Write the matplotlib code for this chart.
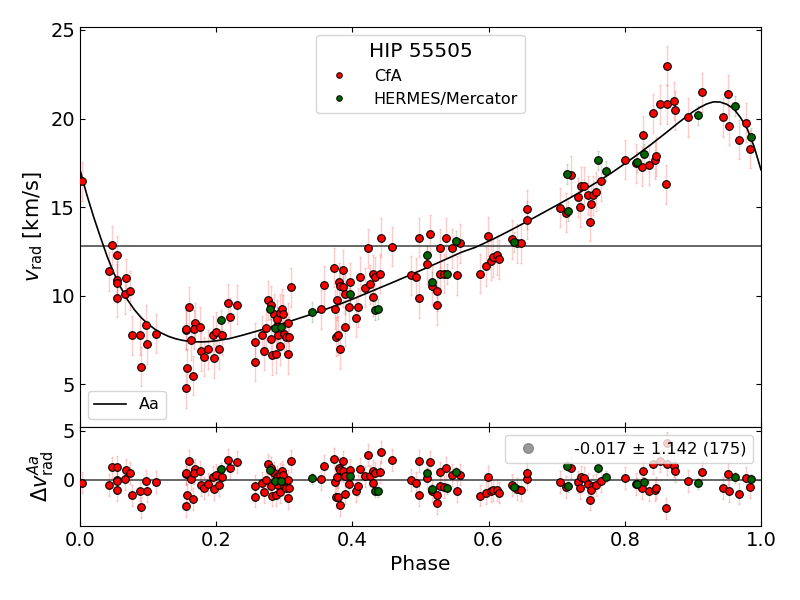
import numpy as np
import matplotlib
matplotlib.use("Agg")
import matplotlib.pyplot as plt
from matplotlib.lines import Line2D

# ---------------- data ----------------
cfa_phase = [0.0025, 0.0465, 0.054, 0.043, 0.055, 0.055, 0.0675, 0.066, 0.073, 0.054,
             0.077, 0.0876, 0.097, 0.099, 0.089, 0.111,
             0.156, 0.155, 0.1605, 0.163, 0.1576, 0.156, 0.166, 0.169, 0.168, 0.176,
             0.177, 0.182, 0.188, 0.195, 0.197, 0.200, 0.2045, 0.2085, 0.218, 0.231, 0.220,
             0.2565, 0.257, 0.267, 0.2706, 0.2727, 0.2765, 0.280, 0.2805, 0.282, 0.285,
             0.2874, 0.2893, 0.2893, 0.2907, 0.2937, 0.294, 0.297, 0.298, 0.300, 0.3025,
             0.3054, 0.3054, 0.3065, 0.3094,
             0.3539, 0.3579, 0.3734, 0.3744, 0.377, 0.3764, 0.3784, 0.3818, 0.3808, 0.3818,
             0.3862, 0.3858, 0.3896, 0.3965, 0.3896, 0.3954, 0.4048, 0.4087, 0.4112, 0.4185,
             0.4229, 0.4258, 0.4298, 0.4307, 0.4336, 0.441, 0.442, 0.4577,
             0.486, 0.493, 0.4978, 0.4982, 0.5091, 0.514, 0.5173, 0.5247, 0.5238, 0.5291,
             0.5282, 0.534, 0.537, 0.5463, 0.558, 0.5532,
             0.5878, 0.5962, 0.5991, 0.6035, 0.6069, 0.6119, 0.6157,
             0.6339, 0.6413, 0.6476, 0.656, 0.656,
             0.7048, 0.7132, 0.7205, 0.7317, 0.7342, 0.7352, 0.7396, 0.7464, 0.7537, 0.7504,
             0.7489, 0.7577, 0.7646,
             0.8007, 0.8164, 0.8248, 0.8359, 0.8439, 0.8454, 0.8272, 0.8605, 0.8418, 0.8517,
             0.8615, 0.8615, 0.8727, 0.8737, 0.8924, 0.9138, 0.9437, 0.9511, 0.9526, 0.9775,
             0.9672, 0.9834]
cfa_v = [16.47, 12.85, 12.27, 11.37, 10.88, 10.69, 10.97, 10.07, 10.27, 9.88,
         7.77, 7.77, 8.37, 7.26, 5.98, 7.86,
         8.05, 8.10, 9.37, 7.47, 5.89, 4.76, 5.47, 8.46, 8.09, 8.24,
         6.86, 6.54, 6.96, 7.75, 6.47, 7.96, 6.98, 7.75, 9.56, 9.48, 8.77,
         7.36, 6.26, 7.77, 6.88, 8.15, 9.75, 7.58, 9.46, 6.64, 8.99,
         6.73, 8.28, 8.66, 7.77, 9.00, 7.16, 9.27, 8.94, 7.86, 7.64,
         8.46, 6.68, 7.67, 10.46,
         9.24, 10.58, 11.57, 9.24, 9.75, 7.67, 7.77, 6.96, 10.76, 10.55,
         11.46, 10.46, 10.08, 10.76, 8.24, 9.35, 8.75, 9.35, 11.06, 10.44,
         12.67, 10.65, 9.95, 11.20, 11.06, 11.25, 13.27, 12.76,
         11.16, 11.03, 13.27, 9.86, 11.76, 13.46, 10.55, 10.25, 9.45, 12.67,
         11.25, 11.25, 13.27, 12.67, 12.95, 11.16,
         11.25, 11.67, 13.36, 11.97, 12.16, 12.29, 12.06,
         13.18, 12.95, 12.95, 14.27, 14.87,
         14.96, 14.68, 16.79, 15.56, 14.98, 16.17, 16.17, 15.66, 15.66, 15.17,
         14.17, 15.86, 16.45,
         17.66, 17.47, 17.28, 17.37, 17.67, 17.88, 19.07, 16.28, 20.29, 20.80,
         20.80, 22.98, 20.99, 20.48, 20.07, 21.48, 20.07, 21.38, 19.58, 19.76,
         18.79, 18.28]
cfa_err = 1.1

her_phase = [0.2075, 0.279, 0.2868, 0.295, 0.3402, 0.3965, 0.4336, 0.4371, 0.51, 0.5164,
             0.5394, 0.5517, 0.6377, 0.7161, 0.7156, 0.7606, 0.7719, 0.8179, 0.8282, 0.907,
             0.9623, 0.9853]
her_v = [8.62, 9.24, 8.18, 8.24, 9.09, 10.10, 9.18, 9.24, 12.27, 10.76,
         11.23, 13.10, 13.04, 14.77, 16.86, 17.64, 17.03, 17.54, 18.01, 20.18,
         20.71, 18.94]
her_err = 0.55

# model curve (Aa)
curve_phase = [0.00, 0.01, 0.02, 0.03, 0.04, 0.05, 0.06, 0.07, 0.08, 0.09, 0.10, 0.11, 0.12,
               0.13, 0.14, 0.15, 0.16, 0.17, 0.18, 0.19, 0.20, 0.22, 0.24, 0.26, 0.28, 0.30,
               0.32, 0.34, 0.36, 0.38, 0.40, 0.42, 0.44, 0.46, 0.48, 0.50, 0.52, 0.54, 0.56,
               0.58, 0.60, 0.62, 0.64, 0.66, 0.68, 0.70, 0.72, 0.74, 0.76, 0.78, 0.80, 0.82,
               0.84, 0.86, 0.88, 0.90, 0.91, 0.92, 0.93, 0.94, 0.95, 0.96, 0.97, 0.98, 0.99,
               1.00]
curve_v = [17.10, 15.70, 14.45, 13.30, 12.20, 11.25, 10.45, 9.75, 9.20, 8.75, 8.40, 8.10, 7.88,
           7.70, 7.57, 7.48, 7.42, 7.39, 7.39, 7.41, 7.45, 7.58, 7.78, 8.00, 8.22, 8.45,
           8.70, 8.95, 9.22, 9.50, 9.80, 10.12, 10.44, 10.76, 11.09, 11.42, 11.76, 12.10, 12.45,
           12.72, 13.07, 13.45, 13.85, 14.26, 14.68, 15.10, 15.53, 15.97, 16.43, 16.92, 17.45, 18.00,
           18.58, 19.18, 19.80, 20.38, 20.62, 20.82, 20.94, 20.93, 20.80, 20.55, 20.05, 19.40, 18.40,
           17.10]
v_sys = 12.8

res_label = "-0.017 ± 1.142 (175)"

# ---------------- figure ----------------
fig = plt.figure(figsize=(8, 6), dpi=100)
ax1 = fig.add_axes([0.1, 0.2888, 0.85125, 0.6657])
ax2 = fig.add_axes([0.1, 0.1233, 0.85125, 0.1655], sharex=ax1)

red = "red"
green = "darkgreen"

cp = np.array(cfa_phase); cv = np.array(cfa_v)
hp = np.array(her_phase); hv = np.array(her_v)
cres = cv - np.interp(cp, curve_phase, curve_v)
hres = hv - np.interp(hp, curve_phase, curve_v)

for ax, yc, yh in [(ax1, cv, hv), (ax2, cres, hres)]:
    ax.errorbar(cp, yc, yerr=cfa_err, fmt="none", ecolor=red, alpha=0.2,
                elinewidth=1, capsize=1, zorder=1)
    ax.errorbar(hp, yh, yerr=her_err, fmt="none", ecolor=green, alpha=0.2,
                elinewidth=1, capsize=1, zorder=1)
    ax.plot(cp, yc, "o", ms=5.5, mfc=red, mec="black", mew=0.8, ls="none", zorder=3)
    ax.plot(hp, yh, "o", ms=5.5, mfc=green, mec="black", mew=0.8, ls="none", zorder=3)

ax1.axhline(v_sys, color="0.3", lw=1.2, zorder=2)
line_aa, = ax1.plot(curve_phase, curve_v, color="black", lw=1.2, zorder=2, label="Aa")
ax2.axhline(0, color="0.3", lw=1.2, zorder=2)

ax1.set_xlim(0, 1)
ax1.set_ylim(2.6, 25.15)
ax2.set_ylim(-4.7, 5.4)
ax1.set_yticks([5, 10, 15, 20, 25])
ax2.set_yticks([0, 5])
ax2.set_xticks([0.0, 0.2, 0.4, 0.6, 0.8, 1.0])

for ax in (ax1, ax2):
    ax.tick_params(direction="in", top=True, right=True, labelsize=14)
ax1.tick_params(labelbottom=False)

ax1.set_ylabel(r"$v_{\rm rad}$ [km/s]", fontsize=15)
ax2.set_ylabel(r"$\Delta v^{Aa}_{\rm rad}$", fontsize=15)
ax2.set_xlabel("Phase", fontsize=14.5)

# legends
h_cfa = Line2D([], [], marker="o", ls="none", ms=4, mfc=red, mec="black", mew=0.7)
h_her = Line2D([], [], marker="o", ls="none", ms=4, mfc=green, mec="black", mew=0.7)
leg1 = ax1.legend([h_cfa, h_her], ["CfA", "HERMES/Mercator"], loc="upper center",
                  title="HIP 55505", fontsize=11.5, title_fontsize=14.5,
                  handletextpad=1.2)
ax1.add_artist(leg1)
ax1.legend([line_aa], ["Aa"], loc="lower left", fontsize=11.5)

h_res = Line2D([], [], marker="o", ls="none", ms=7, mfc="grey", mec="grey", alpha=0.8)
ax2.legend([h_res], [res_label], loc="upper right", fontsize=11.8, handletextpad=1.8)

fig.savefig("out.png", dpi=100)
